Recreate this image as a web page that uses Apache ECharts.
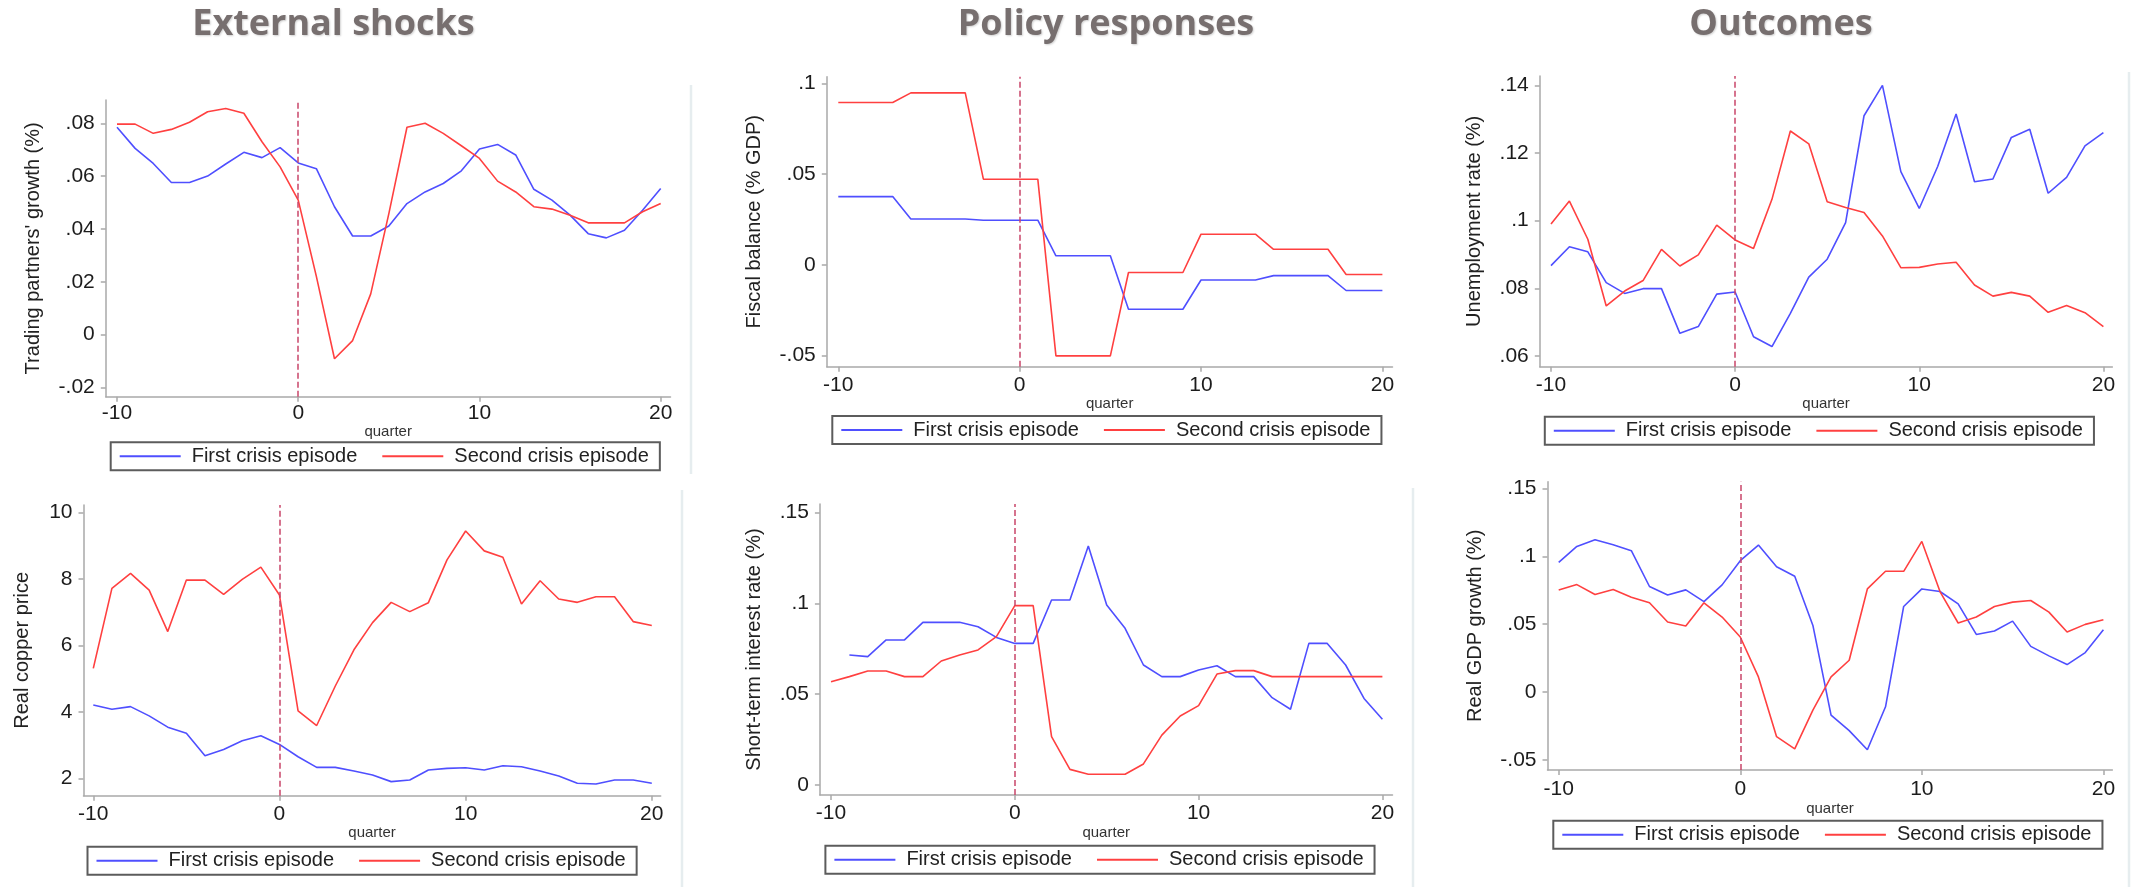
<!DOCTYPE html>
<html>
<head>
<meta charset="utf-8">
<script src="https://cdn.jsdelivr.net/npm/echarts@6/dist/echarts.min.js"></script>
<style>
  html, body { margin: 0; padding: 0; background: #ffffff; }
  #chart { width: 2133px; height: 887px; }
</style>
</head>
<body>
<div id="chart"></div>
<script>
// Quarters relative to the start of each crisis episode
const quarters = [-10,-9,-8,-7,-6,-5,-4,-3,-2,-1,0,1,2,3,4,5,6,7,8,9,10,11,12,13,14,15,16,17,18,19,20];
const xTicks = [-10, 0, 10, 20];
const episodeNames = ['First crisis episode', 'Second crisis episode'];
const columnTitles = ['External shocks', 'Policy responses', 'Outcomes'];

// Trading partners' growth
const tradeFirst  = [0.0785,0.0705,0.0648,0.0576,0.0576,0.0600,0.0646,0.0690,0.0670,0.0708,0.0650,0.0628,0.0484,0.0373,0.0373,0.0411,0.0496,0.0540,0.0572,0.0620,0.0703,0.0720,0.0680,0.0550,0.0509,0.0452,0.0382,0.0366,0.0395,0.0471,0.0553];
const tradeSecond = [0.0797,0.0797,0.0762,0.0777,0.0804,0.0844,0.0856,0.0838,0.0730,0.0635,0.0509,0.0220,-0.0092,-0.0023,0.0154,0.0458,0.0785,0.0800,0.0762,0.0715,0.0667,0.0581,0.0540,0.0484,0.0475,0.0452,0.0423,0.0423,0.0423,0.0465,0.0496];
const tradeTicks  = [-0.02, 0, 0.02, 0.04, 0.06, 0.08];

// Fiscal balance (% GDP)
const fiscalFirst  = [0.0376,0.0376,0.0376,0.0376,0.0253,0.0253,0.0253,0.0253,0.0246,0.0246,0.0246,0.0246,0.0050,0.0050,0.0050,0.0050,-0.0244,-0.0244,-0.0244,-0.0244,-0.0083,-0.0083,-0.0083,-0.0083,-0.0059,-0.0059,-0.0059,-0.0059,-0.0141,-0.0141,-0.0141];
const fiscalSecond = [0.0894,0.0894,0.0894,0.0894,0.0947,0.0947,0.0947,0.0947,0.0472,0.0472,0.0472,0.0472,-0.0501,-0.0501,-0.0501,-0.0501,-0.0042,-0.0042,-0.0042,-0.0042,0.0169,0.0169,0.0169,0.0169,0.0086,0.0086,0.0086,0.0086,-0.0053,-0.0053,-0.0053];
const fiscalTicks  = [-0.05, 0, 0.05, 0.1];

// Unemployment rate
const unempFirst  = [0.0867,0.0923,0.0908,0.0817,0.0785,0.0799,0.0799,0.0667,0.0687,0.0783,0.0789,0.0657,0.0628,0.0726,0.0833,0.0886,0.0994,0.1310,0.1400,0.1145,0.1036,0.1160,0.1315,0.1115,0.1123,0.1246,0.1270,0.1081,0.1128,0.1221,0.1260];
const unempSecond = [0.0990,0.1058,0.0945,0.0748,0.0792,0.0823,0.0915,0.0866,0.0899,0.0987,0.0943,0.0918,0.1063,0.1265,0.1227,0.1056,0.1039,0.1024,0.0955,0.0861,0.0862,0.0872,0.0877,0.0810,0.0777,0.0788,0.0777,0.0729,0.0749,0.0728,0.0687];
const unempTicks  = [0.06, 0.08, 0.1, 0.12, 0.14];

// Real copper price
const copperFirst  = [4.21,4.08,4.16,3.88,3.54,3.36,2.68,2.87,3.13,3.28,3.02,2.65,2.33,2.33,2.22,2.10,1.90,1.95,2.25,2.30,2.32,2.25,2.38,2.35,2.22,2.07,1.85,1.83,1.95,1.95,1.85];
const copperSecond = [5.31,7.72,8.17,7.67,6.42,7.97,7.97,7.54,7.99,8.36,7.52,4.03,3.59,4.78,5.87,6.69,7.30,7.02,7.29,8.58,9.45,8.85,8.66,7.25,7.95,7.40,7.30,7.47,7.47,6.72,6.60];
const copperTicks  = [2, 4, 6, 8, 10];

// Short-term interest rate (first episode has no value at quarter -10)
const rateFirst  = [null,0.0716,0.0707,0.0799,0.0799,0.0896,0.0896,0.0896,0.0872,0.0813,0.0780,0.0780,0.1019,0.1019,0.1316,0.0991,0.0863,0.0661,0.0597,0.0597,0.0633,0.0657,0.0597,0.0597,0.0481,0.0417,0.0780,0.0780,0.0661,0.0477,0.0362];
const rateSecond = [0.0569,0.0597,0.0628,0.0628,0.0597,0.0597,0.0683,0.0716,0.0744,0.0817,0.0988,0.0988,0.0266,0.0086,0.0059,0.0059,0.0059,0.0116,0.0275,0.0380,0.0437,0.0611,0.0630,0.0630,0.0597,0.0597,0.0597,0.0597,0.0597,0.0597,0.0597];
const rateTicks  = [0, 0.05, 0.1, 0.15];

// Real GDP growth
const gdpFirst  = [0.0956,0.1073,0.1122,0.1086,0.1042,0.0778,0.0716,0.0753,0.0667,0.0790,0.0968,0.1083,0.0924,0.0853,0.0491,-0.0169,-0.0284,-0.0425,-0.0108,0.0631,0.0760,0.0741,0.0650,0.0425,0.0450,0.0523,0.0337,0.0267,0.0203,0.0291,0.0460];
const gdpSecond = [0.0753,0.0792,0.0719,0.0756,0.0699,0.0658,0.0516,0.0487,0.0658,0.0553,0.0406,0.0112,-0.0328,-0.0418,-0.0132,0.0112,0.0235,0.0760,0.0890,0.0890,0.1110,0.0741,0.0509,0.0553,0.0631,0.0663,0.0675,0.0589,0.0443,0.0499,0.0533];
const gdpTicks  = [-0.05, 0, 0.05, 0.1, 0.15];

// ---- styling ----
const FONT = "'Liberation Sans', Arial, sans-serif";
const BLUE = '#4f4fff';
const RED = '#ff4040';
const AXIS = '#a9a9a9';
const TEXT = '#1c1c1c';
const EVENT = '#c9466a';

// Stata-style tick labels: .08, -.02, 0
function stataFmt(v) {
  if (Math.abs(v) < 1e-12) return '0';
  const s = String(Math.round(v * 10000) / 10000);
  return s.replace(/^(-?)0\./, '$1.');
}

// layout of the six panels (pixel frames of the axis box and the value span it covers)
const panels = [
  { grid: { left: 105.8, top: 100, width: 564.7, height: 296.7 }, xr: [-10.618, 20.541], yr: [-0.02356, 0.08883],
    first: tradeFirst, second: tradeSecond, yTicks: tradeTicks, yName: "Trading partners' growth (%)",
    yNameGap: 62, xMargin: 6, xNameGap: 20, legend: { left: 110.7, top: 442.3 } },
  { grid: { left: 826.8, top: 76.7, width: 565.7, height: 290 }, xr: [-10.634, 20.557], yr: [-0.05606, 0.10363],
    first: fiscalFirst, second: fiscalSecond, yTicks: fiscalTicks, yName: 'Fiscal balance (% GDP)',
    yNameGap: 62, xMargin: 8, xNameGap: 26, legend: { left: 832.3, top: 416 } },
  { grid: { left: 1539.8, top: 76, width: 572.6, height: 290.7 }, xr: [-10.608, 20.489], yr: [0.05684, 0.14275],
    first: unempFirst, second: unempSecond, yTicks: unempTicks, yName: 'Unemployment rate (%)',
    yNameGap: 55, xMargin: 8, xNameGap: 26, legend: { left: 1544.8, top: 416.7 } },
  { grid: { left: 83.5, top: 505, width: 577.2, height: 290.7 }, xr: [-10.526, 20.478], yr: [1.476, 10.232],
    first: copperFirst, second: copperSecond, yTicks: copperTicks, yName: 'Real copper price',
    yNameGap: 51, xMargin: 8, xNameGap: 26, legend: { left: 87.5, top: 846.7 } },
  { grid: { left: 819.9, top: 504, width: 572.6, height: 291 }, xr: [-10.604, 20.55], yr: [-0.00551, 0.15479],
    first: rateFirst, second: rateSecond, yTicks: rateTicks, yName: 'Short-term interest rate (%)',
    yNameGap: 55, xMargin: 8, xNameGap: 26, legend: { left: 825.4, top: 845.7 } },
  { grid: { left: 1547.5, top: 481.7, width: 564.9, height: 288.3 }, xr: [-10.617, 20.496], yr: [-0.05737, 0.155],
    first: gdpFirst, second: gdpSecond, yTicks: gdpTicks, yName: 'Real GDP growth (%)',
    yNameGap: 62, xMargin: 9, xNameGap: 26, legend: { left: 1553.3, top: 820.7 } }
];

const pairs = arr => quarters.map((q, i) => [q, arr[i]]);

const grid = [], xAxis = [], yAxis = [], series = [], legend = [];
panels.forEach((p, i) => {
  grid.push(Object.assign({ containLabel: false }, p.grid));
  xAxis.push({
    gridIndex: i, type: 'value', min: p.xr[0], max: p.xr[1],
    axisLine: { show: true, onZero: false, lineStyle: { color: AXIS, width: 1.5 } },
    axisTick: { show: true, length: 5, customValues: xTicks, lineStyle: { color: AXIS, width: 1.5 } },
    axisLabel: { customValues: xTicks, margin: p.xMargin, fontSize: 21, color: TEXT, fontFamily: FONT },
    splitLine: { show: false },
    name: 'quarter', nameLocation: 'middle', nameGap: p.xNameGap,
    nameTextStyle: { fontSize: 15, color: '#333333', fontFamily: FONT }
  });
  yAxis.push({
    gridIndex: i, type: 'value', min: p.yr[0], max: p.yr[1],
    axisLine: { show: true, onZero: false, lineStyle: { color: AXIS, width: 1.5 } },
    axisTick: { show: true, length: 5, customValues: p.yTicks, lineStyle: { color: AXIS, width: 1.5 } },
    axisLabel: { customValues: p.yTicks, margin: 11, fontSize: 21, color: TEXT, fontFamily: FONT, formatter: stataFmt },
    splitLine: { show: false },
    name: p.yName, nameLocation: 'middle', nameGap: p.yNameGap,
    nameTextStyle: { fontSize: 20, color: '#222222', fontFamily: FONT }
  });
  series.push({
    name: episodeNames[0], type: 'line', xAxisIndex: i, yAxisIndex: i,
    data: pairs(p.first), color: BLUE, showSymbol: false, symbol: 'none',
    lineStyle: { width: 1.6, color: BLUE }, connectNulls: false,
    markLine: {
      silent: true, symbol: ['none', 'none'], label: { show: false },
      lineStyle: { color: EVENT, type: [6, 3], width: 1.5 },
      data: [{ xAxis: 0 }]
    }
  });
  series.push({
    name: episodeNames[1], type: 'line', xAxisIndex: i, yAxisIndex: i,
    data: pairs(p.second), color: RED, showSymbol: false, symbol: 'none',
    lineStyle: { width: 1.6, color: RED }, connectNulls: false
  });
  legend.push({
    left: p.legend.left, top: p.legend.top, orient: 'horizontal',
    data: episodeNames, icon: 'rect', itemWidth: 61, itemHeight: 2, itemGap: 25,
    padding: [4, 11, 4, 9], borderColor: '#5c5c5c', borderWidth: 2, backgroundColor: '#ffffff',
    selectedMode: false,
    textStyle: { fontSize: 20, color: '#222222', fontFamily: FONT, padding: [0, 0, 0, 6] }
  });
});

const titleStyle = {
  fontFamily: "'Open Sans', sans-serif", fontWeight: 'bold', fontSize: 36, color: '#776f6f',
  textShadowColor: 'rgba(0,0,0,0.18)', textShadowBlur: 2, textShadowOffsetX: 1, textShadowOffsetY: 1
};
const titleCenters = [333.5, 1106, 1781];
const title = columnTitles.map((t, i) => ({
  text: t, left: titleCenters[i], top: 7, textAlign: 'center', padding: 0, textStyle: titleStyle
}));

// faint panel edge lines
const edge = (x, y1, y2) => ({
  type: 'line', silent: true,
  shape: { x1: x, y1: y1, x2: x, y2: y2 },
  style: { stroke: '#e6edef', lineWidth: 2.5 }
});

const chart = echarts.init(document.getElementById('chart'), null, { renderer: 'canvas' });
chart.setOption({
  backgroundColor: '#ffffff',
  animation: false,
  title, grid, xAxis, yAxis, series, legend,
  graphic: [edge(691, 85, 474), edge(682, 490, 887), edge(1413, 488, 887), edge(2129, 72, 887)]
});
</script>
</body>
</html>
